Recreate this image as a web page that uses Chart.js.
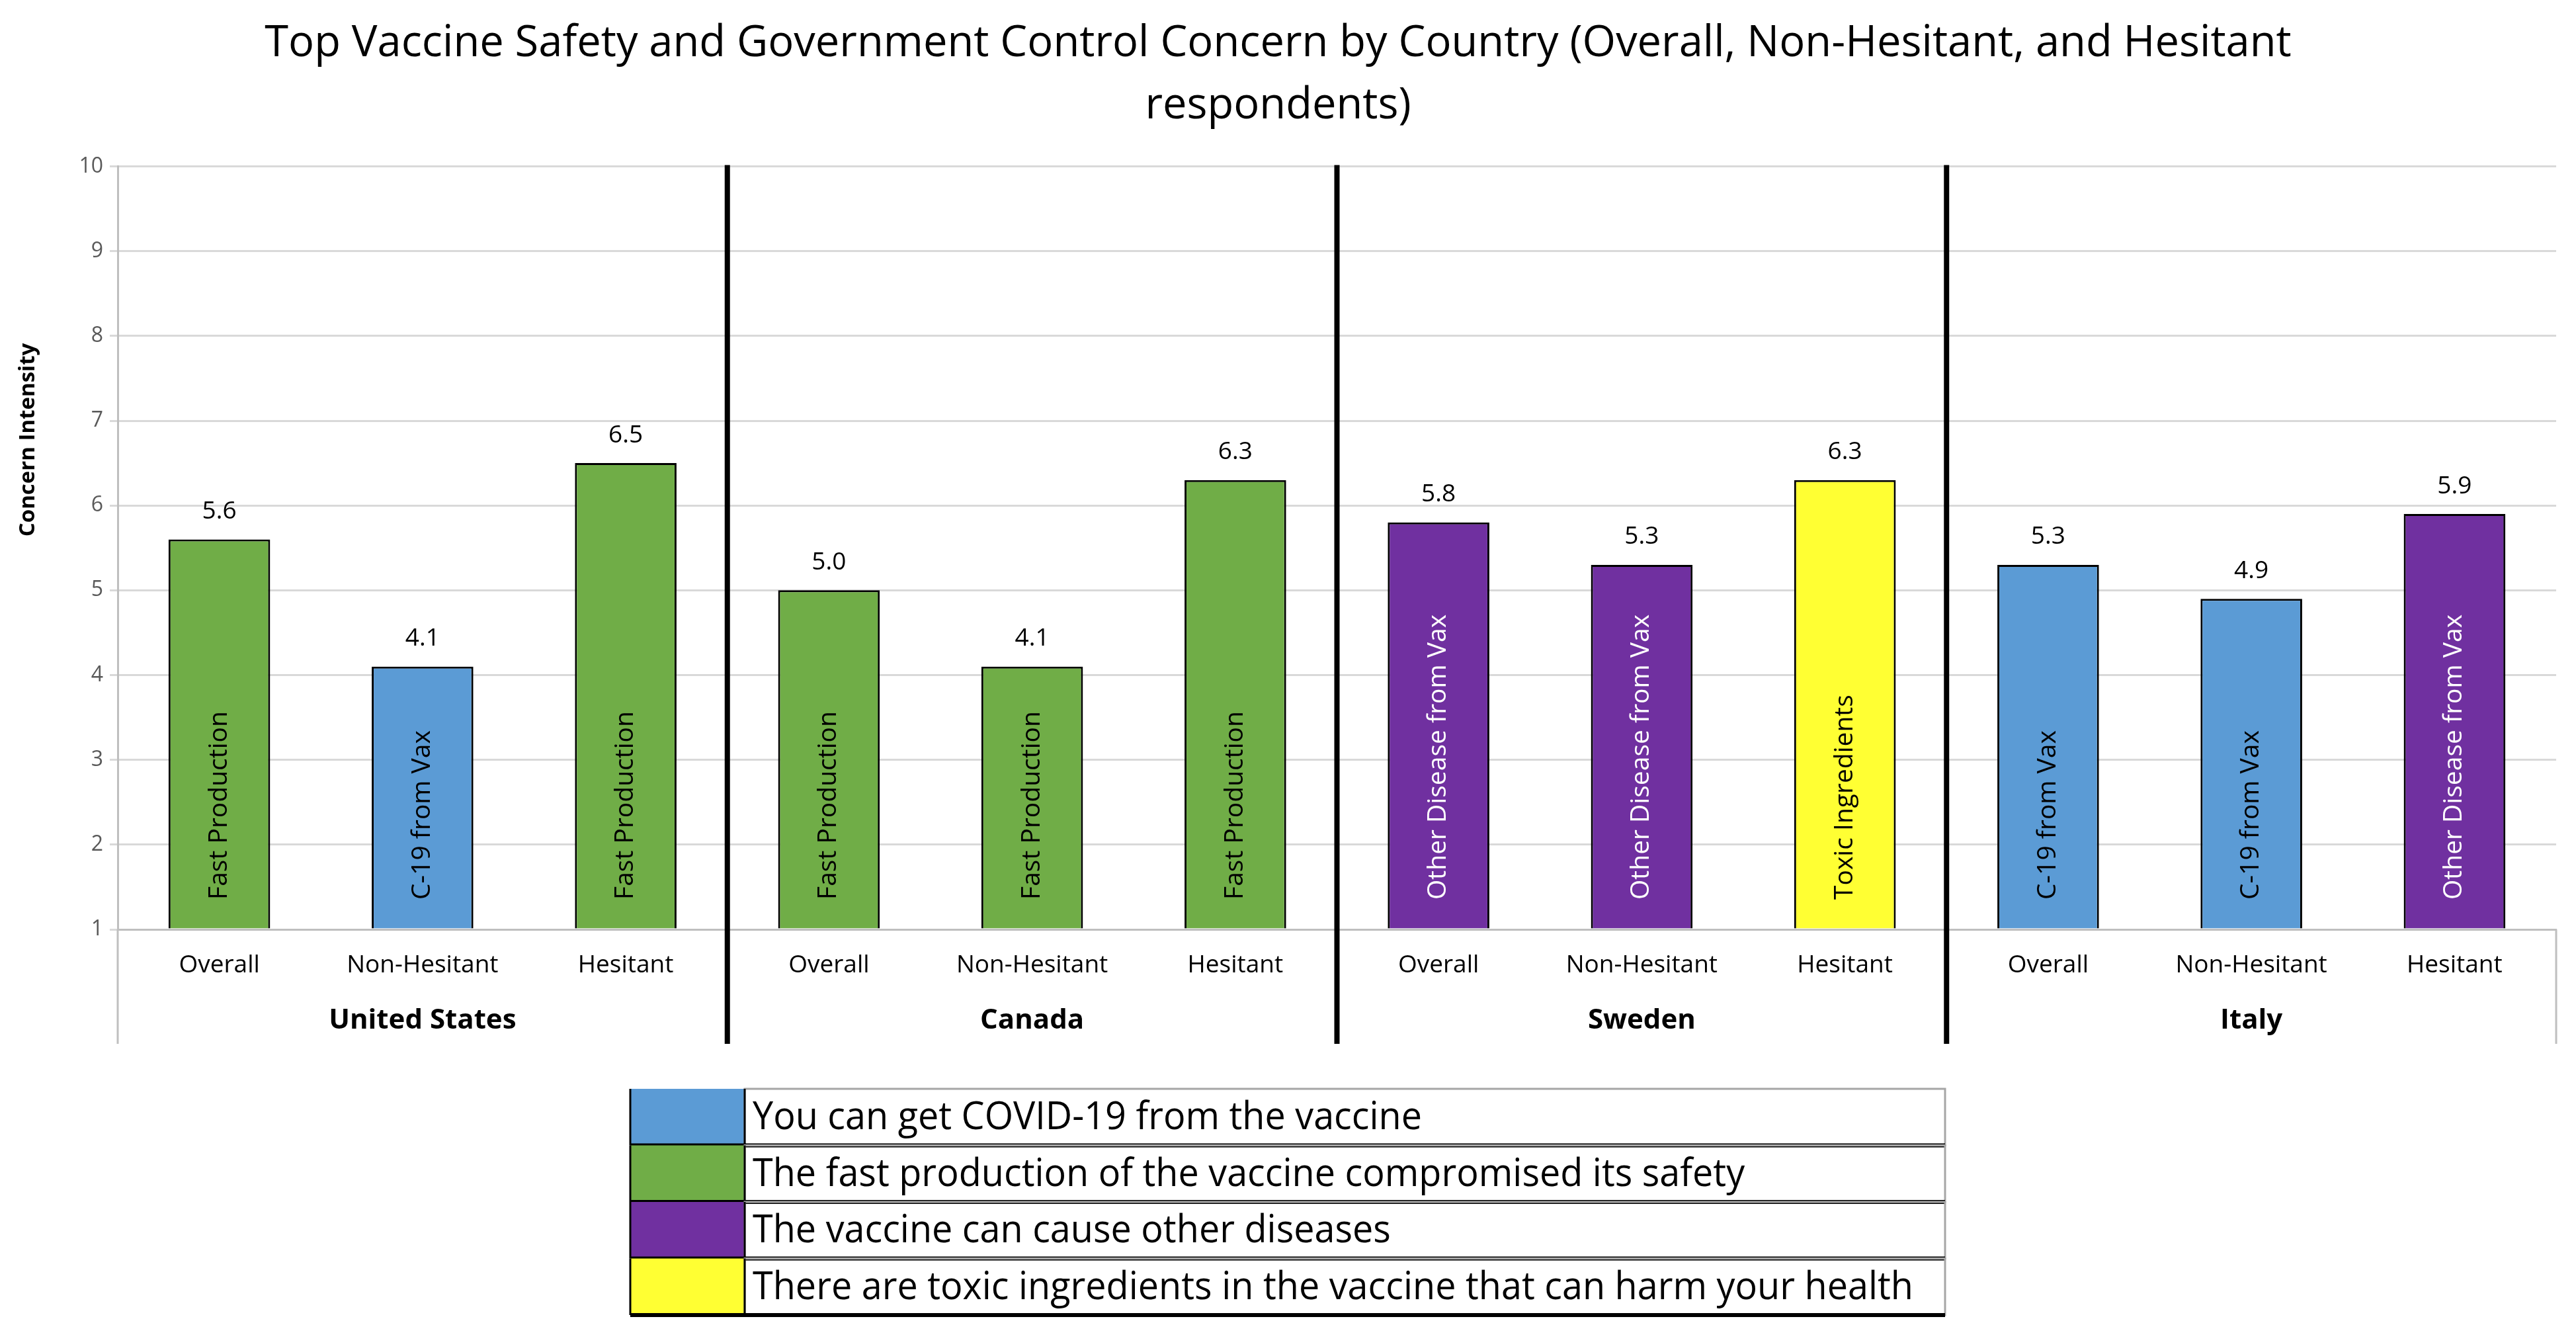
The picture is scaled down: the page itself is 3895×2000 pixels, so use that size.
<!DOCTYPE html>
<html><head><meta charset="utf-8">
<script src="https://cdn.jsdelivr.net/npm/chart.js@4.4.1/dist/chart.umd.min.js"></script>
<style>html,body{margin:0;padding:0;background:#fff;overflow:hidden}</style>
</head><body>
<canvas id="c" width="3895" height="2000" style="width:3895px;height:2000px;display:block"></canvas>
<script>
const countries = ['United States', 'Canada', 'Sweden', 'Italy'];
const groups = ['Overall', 'Non-Hesitant', 'Hesitant'];
const values = [5.6, 4.1, 6.5, 5.0, 4.1, 6.3, 5.8, 5.3, 6.3, 5.3, 4.9, 5.9];
const concernKeys = ['fast', 'c19', 'fast', 'fast', 'fast', 'fast', 'other', 'other', 'toxic', 'c19', 'c19', 'other'];
const concernOrder = ['c19', 'fast', 'other', 'toxic'];
const concernShort = { c19: 'C-19 from Vax', fast: 'Fast Production', other: 'Other Disease from Vax', toxic: 'Toxic Ingredients' };
const concernLong = {
  c19: 'You can get COVID-19 from the vaccine',
  fast: 'The fast production of the vaccine compromised its safety',
  other: 'The vaccine can cause other diseases',
  toxic: 'There are toxic ingredients in the vaccine that can harm your health'
};
const concernColors = { c19: '#5B9BD5', fast: '#70AD47', other: '#7030A0', toxic: '#FFFF33' };
const concernTextColors = { c19: '#000000', fast: '#000000', other: '#FFFFFF', toxic: '#000000' };
const titleLines = ['Top Vaccine Safety and Government Control Concern by Country (Overall, Non-Hesitant, and Hesitant', 'respondents)'];
const yTitle = 'Concern Intensity';
const yMin = 1, yMax = 10, yStep = 1;

const FONT = '"Open Sans", sans-serif';
const categories = countries.flatMap(() => groups);

const decor = {
  id: 'decor',
  afterDatasetsDraw(chart) {
    const { ctx, chartArea: ca, scales: { x, y } } = chart;
    const meta = chart.getDatasetMeta(0);
    const base = y.getPixelForValue(yMin);
    ctx.save();
    meta.data.forEach((bar, i) => {
      const key = concernKeys[i];
      ctx.save();
      ctx.translate(bar.x, base - 45);
      ctx.rotate(-Math.PI / 2);
      ctx.font = '39px ' + FONT;
      ctx.fillStyle = concernTextColors[key];
      ctx.textAlign = 'left';
      ctx.textBaseline = 'middle';
      ctx.fillText(concernShort[key], 0, 0);
      ctx.restore();
      ctx.font = '37px ' + FONT;
      ctx.fillStyle = '#000';
      ctx.textAlign = 'center';
      ctx.textBaseline = 'middle';
      ctx.fillText(values[i].toFixed(1), bar.x, bar.y - 42);
    });
    // y axis title
    ctx.save();
    ctx.translate(43, 665);
    ctx.rotate(-Math.PI / 2);
    ctx.font = 'bold 33px ' + FONT;
    ctx.fillStyle = '#000';
    ctx.textAlign = 'center';
    ctx.textBaseline = 'middle';
    ctx.fillText(yTitle, 0, 0);
    ctx.restore();
    const lowY = 1578;
    // gray axis extensions
    ctx.strokeStyle = '#bfbfbf';
    ctx.lineWidth = 3;
    ctx.beginPath();
    ctx.moveTo(ca.left, ca.bottom); ctx.lineTo(ca.left, lowY);
    ctx.moveTo(ca.right, ca.bottom); ctx.lineTo(ca.right, lowY);
    ctx.stroke();
    // separators
    ctx.strokeStyle = '#000';
    ctx.lineWidth = 8;
    for (let g = 1; g < countries.length; g++) {
      const sx = (x.getPixelForValue(g * groups.length - 1) + x.getPixelForValue(g * groups.length)) / 2;
      ctx.beginPath();
      ctx.moveTo(sx, ca.top - 2); ctx.lineTo(sx, lowY);
      ctx.stroke();
    }
    // group labels
    ctx.font = 'bold 42px ' + FONT;
    ctx.fillStyle = '#000';
    ctx.textAlign = 'center';
    ctx.textBaseline = 'middle';
    countries.forEach((c, g) => {
      const cx = x.getPixelForValue(g * groups.length + 1);
      ctx.fillText(c, cx, 1543);
    });
    // legend table
    const lx = 953, ly = 1646, lw = 1988, rh = 85.5, sw = 173;
    ctx.font = '58px ' + FONT;
    const longest = Math.max(...concernOrder.map(k => ctx.measureText(concernLong[k]).width));
    const factor = Math.min(1, 1755 / longest);
    concernOrder.forEach((k, r) => {
      const ry = ly + r * rh;
      ctx.fillStyle = concernColors[k];
      ctx.fillRect(lx, ry, sw, rh);
      ctx.strokeStyle = '#a6a6a6';
      ctx.lineWidth = 3;
      ctx.strokeRect(lx + sw, ry, lw - sw, rh);
      ctx.strokeStyle = '#000';
      ctx.lineWidth = 3;
      ctx.beginPath();
      ctx.moveTo(lx, ry); ctx.lineTo(lx, ry + rh);
      ctx.moveTo(lx + sw, ry); ctx.lineTo(lx + sw, ry + rh);
      ctx.stroke();
      ctx.lineWidth = 6;
      ctx.beginPath();
      ctx.moveTo(lx, ry + rh); ctx.lineTo(lx + lw, ry + rh);
      ctx.stroke();
      ctx.fillStyle = '#000';
      ctx.textAlign = 'left';
      ctx.textBaseline = 'middle';
      const tw = ctx.measureText(concernLong[k]).width * factor;
      ctx.fillText(concernLong[k], lx + sw + 12, ry + rh / 2 + 2, tw);
    });
    ctx.restore();
  }
};

new Chart(document.getElementById('c'), {
  type: 'bar',
  data: {
    labels: categories,
    datasets: [{
      data: values,
      base: yMin,
      backgroundColor: concernKeys.map(k => concernColors[k]),
      borderColor: '#000',
      borderWidth: 3,
      barPercentage: 0.5,
      categoryPercentage: 1.0
    }]
  },
  options: {
    responsive: false,
    animation: false,
    devicePixelRatio: 1,
    layout: { padding: { left: 0, right: 30, top: 0, bottom: 0 } },
    plugins: {
      legend: { display: false },
      tooltip: { enabled: false },
      title: {
        display: true,
        text: titleLines,
        color: '#000',
        font: { family: FONT, size: 65, weight: 'normal', lineHeight: 1.45 },
        padding: { top: 19, bottom: 44 }
      }
    },
    scales: {
      x: {
        grid: { display: false, drawTicks: false },
        border: { display: true, color: '#bfbfbf', width: 3 },
        ticks: { color: '#000', font: { family: FONT, size: 37 }, padding: 32, maxRotation: 0, autoSkip: false },
        afterFit(s) { s.height = 595; }
      },
      y: {
        min: yMin, max: yMax,
        ticks: { stepSize: yStep, color: '#595959', font: { family: FONT, size: 32 }, padding: 10 },
        grid: { color: '#d9d9d9', lineWidth: 3, tickLength: 12 },
        border: { display: true, color: '#bfbfbf', width: 3 },
        afterFit(s) { s.width = 178; }
      }
    }
  },
  plugins: [decor]
});
</script>
</body></html>
